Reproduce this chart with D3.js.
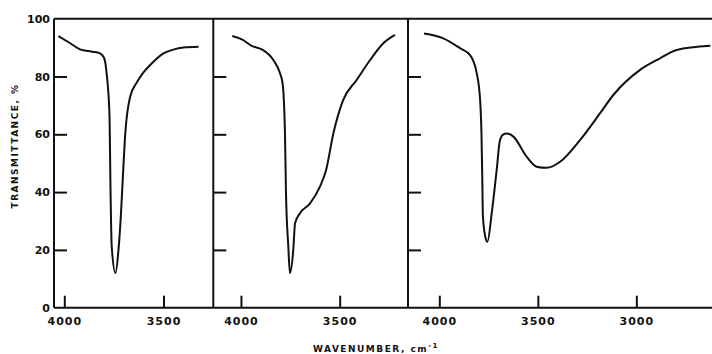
<!DOCTYPE html>
<html>
<head>
<meta charset="utf-8">
<script src="https://cdn.jsdelivr.net/npm/d3@7"></script>
<style>
  body { margin: 0; background: #fff; }
  svg { display: block; }
  .lbl { font-family: "DejaVu Sans", sans-serif; font-weight: bold; fill: #111; }
</style>
</head>
<body>
<svg width="712" height="354"></svg>
<script>
// transmittance vs wavenumber, one array pair per panel
const wn1 = [4030, 3970, 3921, 3860, 3820, 3800, 3785, 3772, 3768, 3761, 3742, 3727, 3714, 3705, 3693, 3668, 3634, 3600, 3567, 3500, 3450, 3399, 3323];
const t1  = [94, 91.5, 89.4, 88.6, 88, 86.5, 80, 66, 45, 21, 12, 20, 33, 45, 60, 73, 78, 81.5, 84, 88, 89.3, 90, 90.3];

const wn2 = [4044, 3988, 3946, 3895, 3836, 3802, 3789, 3777, 3772, 3760, 3752, 3735, 3726, 3701, 3650, 3600, 3569, 3532, 3482, 3414, 3346, 3279, 3220];
const t2  = [94, 92.6, 90.6, 89.4, 85.7, 81.1, 77.6, 60.3, 40, 21, 12, 20, 29.2, 32.7, 36.1, 41.9, 47.6, 60.3, 71.9, 78.8, 85.7, 91.5, 94.4];

const wn3 = [4078, 3980, 3895, 3844, 3810, 3793, 3786, 3782, 3779, 3768, 3756, 3734, 3709, 3692, 3675, 3658, 3624, 3556, 3506, 3455, 3387, 3286, 3184, 3117, 2981, 2880, 2795, 2624];
const t3  = [94.9, 93.2, 89.8, 87.4, 81.1, 71.9, 60, 45, 32, 25, 22.8, 32.7, 47.6, 58, 60, 60.3, 59.2, 52.2, 48.8, 48.4, 50.5, 58, 67.3, 73.6, 82.3, 86.3, 89.2, 90.6];

const yTicks = [0, 20, 40, 60, 80, 100];
const xTicks1 = [4000, 3500];
const xTicks2 = [4000, 3500];
const xTicks3 = [4000, 3500, 3000];

const svg = d3.select("svg");
const plotTop = 18.7, plotBottom = 307.7;

let y = d3.scaleLinear().domain([0, 100]).range([plotBottom, plotTop]);

const panels = [
  { wn: wn1, t: t1, ticks: xTicks1, x: d3.scaleLinear().domain([4052, 3249]).range([54, 213.3]) },
  { wn: wn2, t: t2, ticks: xTicks2, x: d3.scaleLinear().domain([4140, 3154]).range([213.3, 408]) },
  { wn: wn3, t: t3, ticks: xTicks3, x: d3.scaleLinear().domain([4159, 2616]).range([408, 712]) }
];

// frame: top and bottom lines
svg.append("line").attr("x1", 54).attr("x2", 712).attr("y1", plotTop).attr("y2", plotTop)
  .attr("stroke", "#111").attr("stroke-width", 2);
svg.append("line").attr("x1", 54).attr("x2", 712).attr("y1", plotBottom).attr("y2", plotBottom)
  .attr("stroke", "#111").attr("stroke-width", 2);

panels.forEach(function (p, i) {
  let x0 = p.x.range()[0];

  // left border of panel
  svg.append("line").attr("x1", x0).attr("x2", x0).attr("y1", plotTop).attr("y2", plotBottom)
    .attr("stroke", "#111").attr("stroke-width", 2);

  // y ticks pointing inward
  let yAxis = d3.axisLeft(y).tickValues(yTicks).tickSize(-13).tickPadding(4)
    .tickFormat(i === 0 ? d3.format("d") : "");
  let gy = svg.append("g").attr("transform", "translate(" + x0 + ",0)").call(yAxis);
  gy.select(".domain").remove();
  gy.selectAll("line").attr("stroke", "#111").attr("stroke-width", 2);
  gy.selectAll(".tick").filter(function (d) { return d === 100 || d === 0; }).select("line").remove();
  gy.selectAll("text").attr("class", "lbl").style("font-size", "11px").attr("fill", "#111");

  // x ticks pointing up
  let xAxis = d3.axisBottom(p.x).tickValues(p.ticks).tickSize(-12).tickPadding(10).tickFormat(d3.format("d"));
  let gx = svg.append("g").attr("transform", "translate(0," + plotBottom + ")").call(xAxis);
  gx.select(".domain").remove();
  gx.selectAll("line").attr("stroke", "#111").attr("stroke-width", 2);
  gx.selectAll("text").attr("class", "lbl").style("font-size", "11px")
    .style("letter-spacing", "1px").attr("fill", "#111");

  // spectrum
  let line = d3.line()
    .x(function (d, j) { return p.x(p.wn[j]); })
    .y(function (d) { return y(d); })
    .curve(d3.curveMonotoneX);
  svg.append("path").datum(p.t)
    .attr("d", line)
    .attr("fill", "none")
    .attr("stroke", "#111")
    .attr("stroke-width", 2)
    .attr("stroke-linejoin", "round");
});

// axis titles
svg.append("text").attr("class", "lbl")
  .attr("transform", "translate(18,146) rotate(-90)")
  .attr("text-anchor", "middle")
  .style("font-size", "9px").style("letter-spacing", "1.5px")
  .text("TRANSMITTANCE, %");

let xt = svg.append("text").attr("class", "lbl")
  .attr("x", 376).attr("y", 352)
  .attr("text-anchor", "middle")
  .style("font-size", "9px").style("letter-spacing", "1.5px");
xt.append("tspan").text("WAVENUMBER, cm");
xt.append("tspan").attr("dy", -4).style("font-size", "7px").text("-1");
</script>
</body>
</html>
